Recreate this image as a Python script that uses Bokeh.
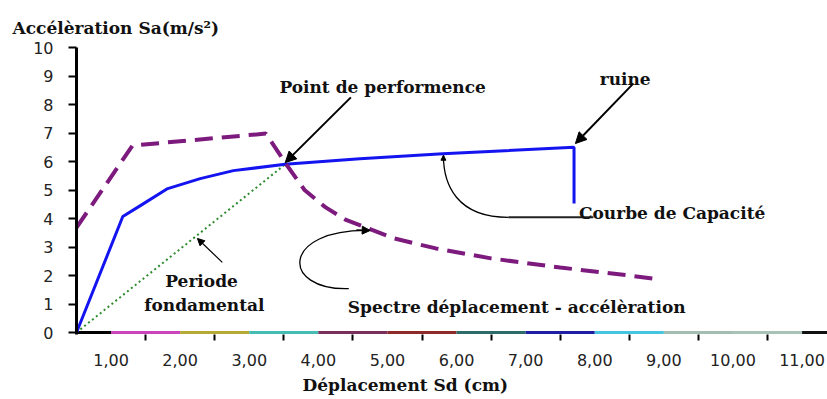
from bokeh.plotting import figure
from bokeh.models import Range1d, FixedTicker, Label, Arrow, NormalHead, Title
from bokeh.embed import file_html
from bokeh.resources import INLINE

# ---- data ----
cap_x = [0, 0.67, 0.93, 1.32, 1.79, 2.27, 3.02, 4.10, 5.30, 7.20, 7.20]
cap_y = [0, 4.07, 4.46, 5.05, 5.40, 5.68, 5.90, 6.10, 6.27, 6.50, 4.53]

dem_x = [0, 0.81, 2.74, 3.05, 3.30, 3.60, 3.90, 4.60, 5.20, 6.00, 7.00, 8.00, 8.45]
dem_y = [3.68, 6.56, 6.98, 5.85, 5.00, 4.40, 3.95, 3.30, 2.95, 2.60, 2.28, 2.00, 1.86]

per_x = [0, 3.02]
per_y = [0, 5.90]

x_label_pos = [0.5, 1.5, 2.5, 3.5, 4.5, 5.5, 6.5, 7.5, 8.5, 9.5, 10.5]
x_labels = ["1,00", "2,00", "3,00", "4,00", "5,00", "6,00", "7,00", "8,00", "9,00", "10,00", "11,00"]
x_tick_pos = [1, 2, 3, 4, 5, 6, 7, 8, 9, 10, 11]
y_ticks = [0, 1, 2, 3, 4, 5, 6, 7, 8, 9, 10]

axis_seg_start = [0, 0.5, 1.5, 2.5, 3.5, 4.5, 5.5, 6.5, 7.5, 8.5, 9.5, 10.5]
axis_seg_end = [0.5, 1.5, 2.5, 3.5, 4.5, 5.5, 6.5, 7.5, 8.5, 9.5, 10.5, 11]
axis_seg_colors = ["#000000", "#CC44BB", "#B5AA35", "#45BDB5", "#7A2E5A", "#8E2A2A",
                   "#2E6B6B", "#1E1EA0", "#45C5E0", "#A4BDB3", "#A8C2B8", "#111111"]

y_title = "Accélèration Sa(m/s²)"
x_title = "Déplacement Sd (cm)"

SERIF = "DejaVu Serif"
SANS = "DejaVu Sans"

p = figure(width=827, height=399,
           x_range=Range1d(0, 10.868), y_range=Range1d(-0.07, 10),
           output_backend="svg", toolbar_location=None,
           min_border_left=76, min_border_right=0, min_border_top=47, min_border_bottom=65)
p.outline_line_color = None
p.background_fill_color = "white"
p.border_fill_color = "white"

# titles
p.add_layout(Title(text=y_title, align="left", offset=-64, standoff=19,
                   text_font=SERIF, text_font_style="bold", text_font_size="17px",
                   text_color="#111111"), "above")
p.add_layout(Title(text=x_title, align="left", offset=226, standoff=9,
                   text_font=SERIF, text_font_style="bold", text_font_size="17px",
                   text_color="#111111"), "below")

# x axis
p.xaxis.ticker = FixedTicker(ticks=x_label_pos, minor_ticks=x_tick_pos)
p.xaxis.major_label_overrides = {v: t for v, t in zip(x_label_pos, x_labels)}
p.xaxis.axis_line_color = None
p.xaxis.major_tick_out = 0
p.xaxis.major_tick_in = 0
p.xaxis.minor_tick_out = 6
p.xaxis.minor_tick_in = 0
p.xaxis.minor_tick_line_width = 2
p.xaxis.minor_tick_line_color = "black"
p.xaxis.major_label_standoff = 13
p.xaxis.major_label_text_font = SANS
p.xaxis.major_label_text_font_size = "16px"
p.xaxis.major_label_text_color = "#222222"

# y axis
p.yaxis.ticker = FixedTicker(ticks=y_ticks)
p.yaxis.axis_line_width = 3
p.yaxis.axis_line_color = "black"
p.yaxis.major_tick_out = 8
p.yaxis.major_tick_in = 0
p.yaxis.major_tick_line_width = 2
p.yaxis.minor_tick_line_color = None
p.yaxis.major_label_standoff = 15
p.yaxis.major_label_text_font = SANS
p.yaxis.major_label_text_font_size = "16px"
p.yaxis.major_label_text_color = "#222222"

p.xgrid.visible = False
p.ygrid.ticker = FixedTicker(ticks=[10])
p.ygrid.grid_line_color = "#8a8a8a"
p.ygrid.grid_line_width = 2

# coloured baseline
p.segment(x0=axis_seg_start, y0=[0] * len(axis_seg_start), x1=axis_seg_end, y1=[0] * len(axis_seg_end),
          line_color=axis_seg_colors, line_width=3)

# series
p.line(per_x, per_y, line_color="#2E8B2E", line_width=2, line_dash="2 3")
p.line(cap_x, cap_y, line_color="#1414F0", line_width=3)
p.line(dem_x, dem_y, line_color="#7D1A7D", line_width=4, line_dash="18 9")

# annotation texts: (text, x, y, align)
ann = [
    ("Point de performence", 4.43, 8.61, "center"),
    ("ruine", 7.94, 8.91, "center"),
    ("Courbe de Capacité", 8.62, 4.18, "center"),
    ("Spectre déplacement - accélèration", 6.37, 0.88, "center"),
    ("Periode", 1.81, 1.82, "center"),
    ("fondamental", 1.85, 0.95, "center"),
]
for t, x, y, a in ann:
    p.add_layout(Label(x=x, y=y, text=t, text_font=SERIF, text_font_style="bold",
                       text_font_size="17px", text_align=a, text_baseline="alphabetic",
                       text_color="#111111"))

# arrows: (x0, y0, x1, y1, width, head size)
arrows = [
    (3.97, 8.25, 3.02, 5.96, 2, 11),
    (8.06, 8.74, 7.22, 6.63, 2, 11),
    (2.11, 2.46, 1.75, 3.30, 1.2, 7),
    (5.31, 6.00, 5.31, 6.22, 1.2, 5),
    (4.05, 3.60, 4.25, 3.58, 1.2, 8),
]
for x0, y0, x1, y1, w, s in arrows:
    p.add_layout(Arrow(end=NormalHead(size=s, fill_color="black", line_color="black"),
                       x_start=x0, y_start=y0, x_end=x1, y_end=y1,
                       line_width=w, line_color="black"))

# curved connectors
p.segment(x0=[7.48], y0=[4.04], x1=[6.25], y1=[4.04], line_color="#222222", line_width=2)
p.bezier(x0=[6.25, 3.94], y0=[4.04, 1.54], x1=[5.31, 4.25], y1=[6.21, 3.58],
         cx0=[5.50, 2.95], cy0=[4.04, 1.47], cx1=[5.31, 2.95], cy1=[5.20, 3.65],
         line_color="black", line_width=1.3)

open("out.html", "w").write(file_html(p, INLINE))
